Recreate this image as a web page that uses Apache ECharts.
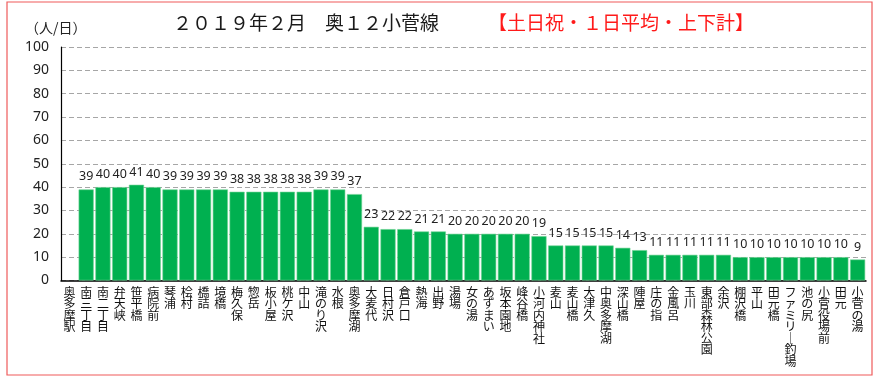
<!DOCTYPE html>
<html>
<head>
<meta charset="utf-8">
<script src="https://cdn.jsdelivr.net/npm/echarts@6/dist/echarts.min.js"></script>
<style>
  html, body { margin: 0; padding: 0; background: #fff; }
  #chart { width: 876px; height: 378px; }
</style>
</head>
<body>
<div id="chart"></div>
<script>
// 停留所（奥多摩駅 → 小菅の湯）
const stops = [
  '奥多摩駅', '南三丁目', '南二丁目', '弁天峡', '笹平橋', '病院前', '琴浦', '桧村',
  '橋詰', '境橋', '梅久保', '惣岳', '板小屋', '桃ケ沢', '中山', '滝のり沢',
  '水根', '奥多摩湖', '大麦代', '日村沢', '倉戸口', '熱海', '出野', '湯場',
  '女の湯', 'あずまい', '坂本園地', '峰谷橋', '小河内神社', '麦山', '麦山橋', '大津久',
  '中奥多摩湖', '深山橋', '陣屋', '庄の指', '金風呂', '玉川', '東部森林公園', '余沢',
  '棚沢橋', '平山', '田元橋', 'ファミリー釣場', '池の尻', '小菅役場前', '田元', '小菅の湯'
];

// 1日平均利用者数（人/日、上下計）
const riders = [
  '-', 39, 40, 40, 41, 40, 39, 39,
  39, 39, 38, 38, 38, 38, 38, 39,
  39, 37, 23, 22, 22, 21, 21, 20,
  20, 20, 20, 20, 19, 15, 15, 15,
  15, 14, 13, 11, 11, 11, 11, 11,
  10, 10, 10, 10, 10, 10, 10, 9
];

const yTicks = { min: 0, max: 100, interval: 10 };

const titleMain = '２０１９年２月　奥１２小菅線';
const titleSub = '【土日祝・１日平均・上下計】';
const unitLabel = '（人/日）';

// 縦書き表示：1文字ずつ改行し、長音符は縦棒で表示
function vertical(name) {
  return Array.from(name).map(c => (c === 'ー' ? '｜' : c)).join('\n');
}

const chart = echarts.init(document.getElementById('chart'), null, { renderer: 'canvas' });

chart.setOption({
  backgroundColor: '#ffffff',
  animation: false,
  textStyle: { fontFamily: '"Noto Sans CJK JP", "Noto Sans", sans-serif' },
  graphic: [
    {
      type: 'rect',
      shape: { x: 7, y: 2, width: 865, height: 373 },
      style: { fill: 'none', stroke: '#ef5b5b', lineWidth: 1.2 },
      silent: true
    },
    {
      type: 'text',
      left: 173, top: 13,
      style: {
        text: titleMain,
        fontSize: 19,
        fill: '#1a1a1a',
        fontFamily: '"Noto Sans CJK JP", sans-serif'
      }
    },
    {
      type: 'text',
      left: 488, top: 13,
      style: {
        text: titleSub,
        fontSize: 19,
        fill: '#ff1a1a',
        fontFamily: '"Noto Sans CJK JP", sans-serif'
      }
    },
    {
      type: 'text',
      left: 25, top: 21,
      style: {
        text: unitLabel,
        fontSize: 14,
        fill: '#222',
        fontFamily: '"Noto Sans CJK JP", sans-serif'
      }
    }
  ],
  grid: { left: 61, right: 10, top: 47, bottom: 97.5, containLabel: false },
  xAxis: {
    type: 'category',
    data: stops,
    axisLine: { show: true, lineStyle: { color: '#000', width: 1.5 } },
    axisTick: { show: false },
    axisLabel: {
      interval: 0,
      margin: 6,
      fontSize: 12,
      lineHeight: 11.5,
      color: '#111',
      verticalAlign: 'top',
      fontFamily: '"Noto Sans CJK JP", sans-serif',
      formatter: vertical
    }
  },
  yAxis: {
    type: 'value',
    min: yTicks.min,
    max: yTicks.max,
    interval: yTicks.interval,
    axisLine: { show: true, lineStyle: { color: '#000', width: 1.2 } },
    axisTick: { show: false },
    axisLabel: {
      margin: 12,
      fontSize: 14,
      color: '#222',
      fontFamily: '"Noto Sans", sans-serif'
    },
    splitLine: {
      show: true,
      lineStyle: { color: '#a6a6a6', type: [5, 3], width: 1 }
    }
  },
  series: [
    {
      type: 'bar',
      data: riders,
      barCategoryGap: '10%',
      itemStyle: { color: '#00b050', borderColor: '#6fd394', borderWidth: 0.6 },
      label: {
        show: true,
        position: 'top',
        distance: 6,
        fontSize: 12.5,
        color: '#222',
        fontFamily: '"Noto Sans", sans-serif'
      }
    }
  ]
});
</script>
</body>
</html>
